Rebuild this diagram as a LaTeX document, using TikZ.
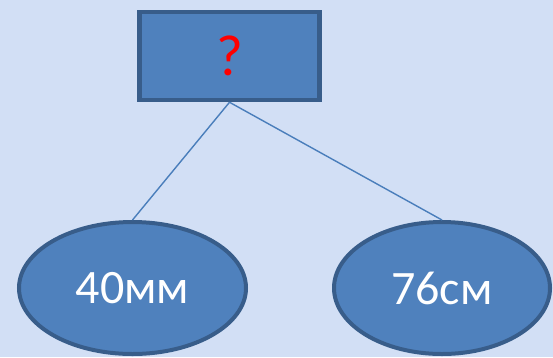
\documentclass[tikz,border=0pt]{standalone}
\usepackage{fontspec}
\setmainfont{Carlito}
\usepackage{xcolor}
\usepackage{tikz}
\usetikzlibrary{shapes.geometric}

\definecolor{bgblue}{RGB}{210,223,245}
\definecolor{fillblue}{RGB}{79,129,189}
\definecolor{edgeblue}{RGB}{56,93,138}
\definecolor{lineblue}{RGB}{74,126,187}

\begin{document}
\begin{tikzpicture}[
  x=1pt, y=-1pt,
  box/.style={draw=edgeblue, fill=fillblue, rectangle, line width=4.5pt, minimum width=180pt, minimum height=88pt, inner sep=0pt},
  oval/.style={draw=edgeblue, fill=fillblue, ellipse, line width=4pt, minimum height=132pt, inner sep=0pt, text=white, font=\fontsize{48}{48}\selectfont},
  link/.style={draw=lineblue, line width=1.4pt}
]
\fill[bgblue] (0,0) rectangle (553,357);
\useasboundingbox (0,0) rectangle (553,357);

\node[box, text=red, font=\fontsize{58}{58}\selectfont] (quest) at (229.5,56) {?};
\node[oval, minimum width=227pt] (mm) at (132.5,288) {40мм};
\node[oval, minimum width=216pt] (cm) at (442,288) {76см};

\draw[link] (quest.south) -- (mm.north);
\draw[link] (quest.south) -- (cm.north);
\end{tikzpicture}
\end{document}
